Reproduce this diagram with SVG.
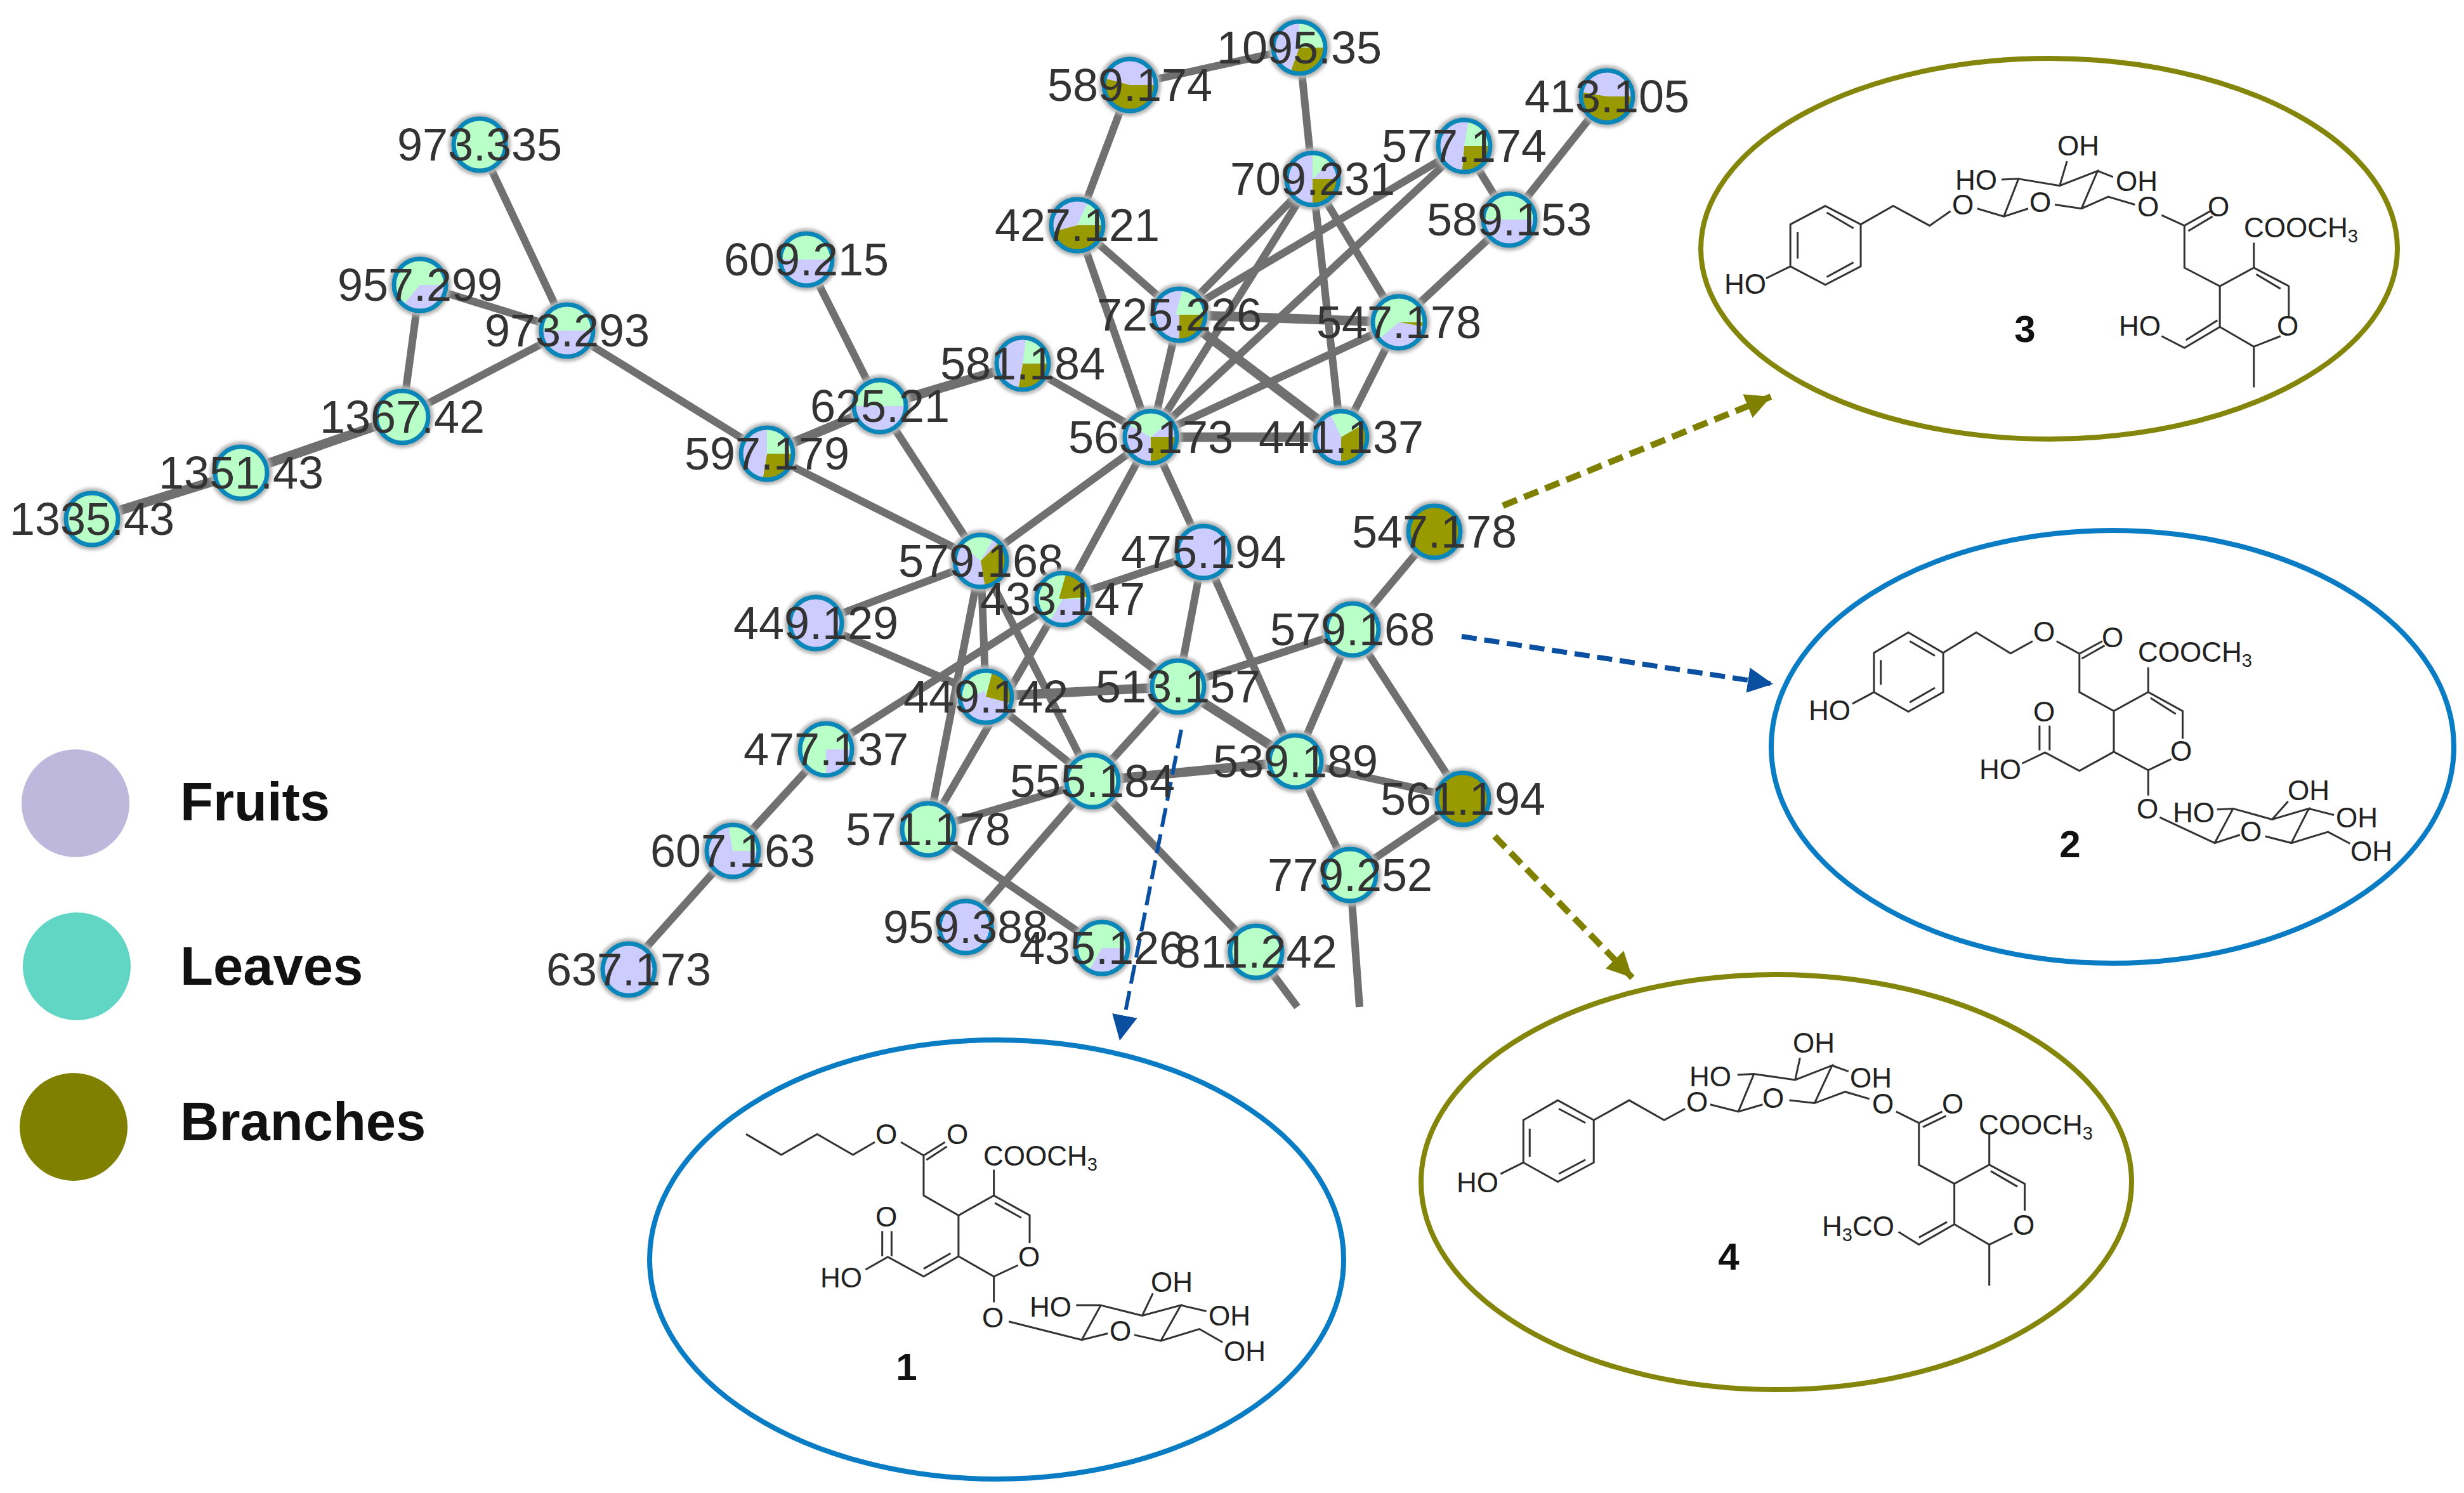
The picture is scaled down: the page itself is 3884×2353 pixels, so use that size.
<svg xmlns="http://www.w3.org/2000/svg" width="3884" height="2353" viewBox="0 0 3884 2353">
<style>
text{font-family:"Liberation Sans",Arial,sans-serif}
.e{stroke:#707070;stroke-width:12;fill:none}
.t{stroke-width:15}
.halo{fill:#b5b5b5;filter:url(#b)}
.ring{fill:none;stroke:#0b86b8;stroke-width:7;r:41px}
.G{fill:#b8ffc8}.L{fill:#ccccff}.O{fill:#999900}
.p{fill:none;stroke-width:42}
.pG{stroke:#b8ffc8}.pL{stroke:#ccccff}.pO{stroke:#999900}
.lb{font-size:72px;fill:#333;text-anchor:middle}
.bond{fill:none;stroke:#333;stroke-width:3;vector-effect:non-scaling-stroke}
.a{font-size:44px;fill:#222;text-anchor:middle}
.s{font-size:44px;fill:#222}
.num{font-size:60px;font-weight:bold;fill:#111;text-anchor:middle}
.lg{font-size:85px;font-weight:bold;fill:#111}
.ell{fill:#fff;stroke-width:8}
</style>
<defs>
<filter id="b" x="-30%" y="-30%" width="160%" height="160%"><feGaussianBlur stdDeviation="2.5"/></filter>
<marker id="mo" markerUnits="userSpaceOnUse" markerWidth="44" markerHeight="44" refX="40" refY="20" orient="auto"><path d="M0 0L40 20L0 40Z" fill="#808000"/></marker>
<marker id="mb" markerUnits="userSpaceOnUse" markerWidth="44" markerHeight="44" refX="40" refY="20" orient="auto"><path d="M0 0L40 20L0 40Z" fill="#0b4fa0"/></marker>
</defs>
<rect width="3884" height="2353" fill="#fff"/>
<g id="connectors">
<line class="e" x1="756" y1="228" x2="894" y2="521"/>
<line class="e" x1="662" y1="449" x2="894" y2="521"/>
<line class="e" x1="662" y1="449" x2="634" y2="657"/>
<line class="e" x1="894" y1="521" x2="634" y2="657"/>
<line class="e t" x1="634" y1="657" x2="380" y2="745"/>
<line class="e t" x1="380" y1="745" x2="145" y2="818"/>
<line class="e" x1="894" y1="521" x2="1209" y2="715"/>
<line class="e t" x1="1209" y1="715" x2="1387" y2="640"/>
<line class="e" x1="1209" y1="715" x2="1546" y2="884"/>
<line class="e" x1="1271" y1="409" x2="1387" y2="640"/>
<line class="e t" x1="1387" y1="640" x2="1612" y2="573"/>
<line class="e" x1="1387" y1="640" x2="1546" y2="884"/>
<line class="e" x1="1612" y1="573" x2="1814" y2="689"/>
<line class="e" x1="1781" y1="134" x2="2048" y2="75"/>
<line class="e" x1="1781" y1="134" x2="1698" y2="355"/>
<line class="e" x1="2048" y1="75" x2="2069" y2="282"/>
<line class="e" x1="2533" y1="152" x2="2379" y2="346"/>
<line class="e" x1="2308" y1="230" x2="2379" y2="346"/>
<line class="e" x1="2308" y1="230" x2="1859" y2="496"/>
<line class="e" x1="2308" y1="230" x2="1814" y2="689"/>
<line class="e" x1="2069" y1="282" x2="1859" y2="496"/>
<line class="e" x1="2069" y1="282" x2="1814" y2="689"/>
<line class="e" x1="2069" y1="282" x2="2205" y2="508"/>
<line class="e" x1="2069" y1="282" x2="2114" y2="689"/>
<line class="e" x1="1698" y1="355" x2="1859" y2="496"/>
<line class="e" x1="1698" y1="355" x2="1814" y2="689"/>
<line class="e t" x1="1859" y1="496" x2="2205" y2="508"/>
<line class="e" x1="1859" y1="496" x2="1814" y2="689"/>
<line class="e t" x1="1859" y1="496" x2="2114" y2="689"/>
<line class="e" x1="2205" y1="508" x2="2379" y2="346"/>
<line class="e" x1="2205" y1="508" x2="1814" y2="689"/>
<line class="e" x1="2205" y1="508" x2="2114" y2="689"/>
<line class="e t" x1="1814" y1="689" x2="2114" y2="689"/>
<line class="e" x1="1814" y1="689" x2="1546" y2="884"/>
<line class="e" x1="1814" y1="689" x2="1675" y2="944"/>
<line class="e" x1="1814" y1="689" x2="1897" y2="870"/>
<line class="e" x1="1546" y1="884" x2="1286" y2="982"/>
<line class="e" x1="1546" y1="884" x2="1554" y2="1098"/>
<line class="e" x1="1546" y1="884" x2="1463" y2="1307"/>
<line class="e" x1="1546" y1="884" x2="1722" y2="1231"/>
<line class="e" x1="1675" y1="944" x2="1897" y2="870"/>
<line class="e t" x1="1675" y1="944" x2="1857" y2="1082"/>
<line class="e" x1="1675" y1="944" x2="1302" y2="1181"/>
<line class="e" x1="1675" y1="944" x2="1463" y2="1307"/>
<line class="e" x1="1286" y1="982" x2="1554" y2="1098"/>
<line class="e t" x1="1554" y1="1098" x2="1857" y2="1082"/>
<line class="e" x1="1554" y1="1098" x2="1722" y2="1231"/>
<line class="e" x1="1897" y1="870" x2="1857" y2="1082"/>
<line class="e" x1="1897" y1="870" x2="2042" y2="1200"/>
<line class="e" x1="1857" y1="1082" x2="2132" y2="992"/>
<line class="e t" x1="1857" y1="1082" x2="2042" y2="1200"/>
<line class="e" x1="1857" y1="1082" x2="1722" y2="1231"/>
<line class="e t" x1="1722" y1="1231" x2="2042" y2="1200"/>
<line class="e" x1="1722" y1="1231" x2="1463" y2="1307"/>
<line class="e" x1="1722" y1="1231" x2="1522" y2="1461"/>
<line class="e" x1="1722" y1="1231" x2="1980" y2="1500"/>
<line class="e" x1="1463" y1="1307" x2="1737" y2="1494"/>
<line class="e" x1="1302" y1="1181" x2="1155" y2="1341"/>
<line class="e" x1="1155" y1="1341" x2="989" y2="1526"/>
<line class="e" x1="2132" y1="992" x2="2261" y2="838"/>
<line class="e" x1="2132" y1="992" x2="2042" y2="1200"/>
<line class="e" x1="2132" y1="992" x2="2306" y2="1259"/>
<line class="e" x1="2042" y1="1200" x2="2306" y2="1259"/>
<line class="e" x1="2042" y1="1200" x2="2128" y2="1379"/>
<line class="e" x1="2306" y1="1259" x2="2128" y2="1379"/>
<line class="e" x1="2128" y1="1379" x2="2143" y2="1587"/>
<line class="e" x1="1980" y1="1500" x2="2045" y2="1587"/>
<line x1="2369" y1="797" x2="2792" y2="625" stroke="#808000" stroke-width="10" stroke-dasharray="24 12" marker-end="url(#mo)"/>
<line x1="2304" y1="1003" x2="2795" y2="1078" stroke="#0b4fa0" stroke-width="8" stroke-dasharray="24 12" marker-end="url(#mb)"/>
<line x1="2356" y1="1318" x2="2573" y2="1541" stroke="#808000" stroke-width="10" stroke-dasharray="24 12" marker-end="url(#mo)"/>
<line x1="1862" y1="1150" x2="1765" y2="1640" stroke="#0b4fa0" stroke-width="6" stroke-dasharray="30 12" marker-end="url(#mb)"/>
</g>
<g id="n973-335" transform="translate(756 228)"><circle class="halo" r="49"/><circle class="G" r="42"/><circle class="ring" r="42"/><text class="lb" y="25">973.335</text></g>
<g id="n957-299" transform="translate(662 449)"><circle class="halo" r="49"/><circle class="G" r="42"/><circle class="p pL" r="21" pathLength="360" stroke-dasharray="130 360"/><circle class="ring" r="42"/><text class="lb" y="25">957.299</text></g>
<g id="n973-293" transform="translate(894 521)"><circle class="halo" r="49"/><circle class="G" r="42"/><circle class="p pL" r="21" pathLength="360" stroke-dasharray="180 360"/><circle class="ring" r="42"/><text class="lb" y="25">973.293</text></g>
<g id="n1367-42" transform="translate(634 657)"><circle class="halo" r="49"/><circle class="G" r="42"/><circle class="ring" r="42"/><text class="lb" y="25">1367.42</text></g>
<g id="n1351-43" transform="translate(380 745)"><circle class="halo" r="49"/><circle class="G" r="42"/><circle class="ring" r="42"/><text class="lb" y="25">1351.43</text></g>
<g id="n1335-43" transform="translate(145 818)"><circle class="halo" r="49"/><circle class="G" r="42"/><circle class="ring" r="42"/><text class="lb" y="25">1335.43</text></g>
<g id="n597-179" transform="translate(1209 715)"><circle class="halo" r="49"/><circle class="G" r="42"/><circle class="p pO" r="21" pathLength="360" stroke-dasharray="100 360"/><circle class="p pL" r="21" pathLength="360" stroke-dasharray="170 360" stroke-dashoffset="-100"/><circle class="ring" r="42"/><text class="lb" y="25">597.179</text></g>
<g id="n609-215" transform="translate(1271 409)"><circle class="halo" r="49"/><circle class="G" r="42"/><circle class="p pL" r="21" pathLength="360" stroke-dasharray="180 360"/><circle class="ring" r="42"/><text class="lb" y="25">609.215</text></g>
<g id="n625-21" transform="translate(1387 640)"><circle class="halo" r="49"/><circle class="G" r="42"/><circle class="p pL" r="21" pathLength="360" stroke-dasharray="180 360"/><circle class="ring" r="42"/><text class="lb" y="25">625.21</text></g>
<g id="n581-184" transform="translate(1612 573)"><circle class="halo" r="49"/><circle class="G" r="42"/><circle class="p pO" r="21" pathLength="360" stroke-dasharray="100 360"/><circle class="p pL" r="21" pathLength="360" stroke-dasharray="178 360" stroke-dashoffset="-100"/><circle class="ring" r="42"/><text class="lb" y="25">581.184</text></g>
<g id="n1095-35" transform="translate(2048 75)"><circle class="halo" r="49"/><circle class="G" r="42"/><circle class="p pO" r="21" pathLength="360" stroke-dasharray="110 360"/><circle class="p pL" r="21" pathLength="360" stroke-dasharray="160 360" stroke-dashoffset="-110"/><circle class="ring" r="42"/><text class="lb" y="25">1095.35</text></g>
<g id="n589-174" transform="translate(1781 134)"><circle class="halo" r="49"/><circle class="L" r="42"/><circle class="p pO" r="21" pathLength="360" stroke-dasharray="195 360"/><circle class="ring" r="42"/><text class="lb" y="25">589.174</text></g>
<g id="n413-105" transform="translate(2533 152)"><circle class="halo" r="49"/><circle class="L" r="42"/><circle class="p pO" r="21" pathLength="360" stroke-dasharray="190 360"/><circle class="ring" r="42"/><text class="lb" y="25">413.105</text></g>
<g id="n577-174" transform="translate(2308 230)"><circle class="halo" r="49"/><circle class="G" r="42"/><circle class="p pO" r="21" pathLength="360" stroke-dasharray="95 360"/><circle class="p pL" r="21" pathLength="360" stroke-dasharray="185 360" stroke-dashoffset="-95"/><circle class="ring" r="42"/><text class="lb" y="25">577.174</text></g>
<g id="n709-231" transform="translate(2069 282)"><circle class="halo" r="49"/><circle class="L" r="42"/><circle class="p pO" r="21" pathLength="360" stroke-dasharray="90 360"/><circle class="p pG" r="21" pathLength="360" stroke-dasharray="45 360" stroke-dashoffset="-270"/><circle class="ring" r="42"/><text class="lb" y="25">709.231</text></g>
<g id="n589-153" transform="translate(2379 346)"><circle class="halo" r="49"/><circle class="G" r="42"/><circle class="p pL" r="21" pathLength="360" stroke-dasharray="180 360"/><circle class="ring" r="42"/><text class="lb" y="25">589.153</text></g>
<g id="n427-121" transform="translate(1698 355)"><circle class="halo" r="49"/><circle class="G" r="42"/><circle class="p pO" r="21" pathLength="360" stroke-dasharray="165 360"/><circle class="p pL" r="21" pathLength="360" stroke-dasharray="130 360" stroke-dashoffset="-165"/><circle class="ring" r="42"/><text class="lb" y="25">427.121</text></g>
<g id="n725-226" transform="translate(1859 496)"><circle class="halo" r="49"/><circle class="L" r="42"/><circle class="p pO" r="21" pathLength="360" stroke-dasharray="90 360"/><circle class="p pG" r="21" pathLength="360" stroke-dasharray="90 360" stroke-dashoffset="-270"/><circle class="ring" r="42"/><text class="lb" y="25">725.226</text></g>
<g id="n547-178a" transform="translate(2205 508)"><circle class="halo" r="49"/><circle class="G" r="42"/><circle class="p pO" r="21" pathLength="360" stroke-dasharray="10 360"/><circle class="p pL" r="21" pathLength="360" stroke-dasharray="130 360" stroke-dashoffset="-10"/><circle class="ring" r="42"/><text class="lb" y="25">547.178</text></g>
<g id="n563-173" transform="translate(1814 689)"><circle class="halo" r="49"/><circle class="L" r="42"/><circle class="p pO" r="21" pathLength="360" stroke-dasharray="90 360"/><circle class="p pG" r="21" pathLength="360" stroke-dasharray="110 360" stroke-dashoffset="-210"/><circle class="ring" r="42"/><text class="lb" y="25">563.173</text></g>
<g id="n441-137" transform="translate(2114 689)"><circle class="halo" r="49"/><circle class="L" r="42"/><circle class="p pO" r="21" pathLength="360" stroke-dasharray="90 360"/><circle class="p pG" r="21" pathLength="360" stroke-dasharray="85 360" stroke-dashoffset="-245"/><circle class="p pO" r="21" pathLength="360" stroke-dasharray="30 360" stroke-dashoffset="-330"/><circle class="ring" r="42"/><text class="lb" y="25">441.137</text></g>
<g id="n579-168a" transform="translate(1546 884)"><circle class="halo" r="49"/><circle class="L" r="42"/><circle class="p pO" r="21" pathLength="360" stroke-dasharray="80 360"/><circle class="p pG" r="21" pathLength="360" stroke-dasharray="80 360" stroke-dashoffset="-220"/><circle class="p pO" r="21" pathLength="360" stroke-dasharray="45 360" stroke-dashoffset="-315"/><circle class="ring" r="42"/><text class="lb" y="25">579.168</text></g>
<g id="n433-147" transform="translate(1675 944)"><circle class="halo" r="49"/><circle class="G" r="42"/><circle class="p pL" r="21" pathLength="360" stroke-dasharray="120 360"/><circle class="p pO" r="21" pathLength="360" stroke-dasharray="85 360" stroke-dashoffset="-270"/><circle class="ring" r="42"/><text class="lb" y="25">433.147</text></g>
<g id="n475-194" transform="translate(1897 870)"><circle class="halo" r="49"/><circle class="L" r="42"/><circle class="ring" r="42"/><text class="lb" y="25">475.194</text></g>
<g id="n547-178b" transform="translate(2261 838)"><circle class="halo" r="49"/><circle class="O" r="42"/><circle class="ring" r="42"/><text class="lb" y="25">547.178</text></g>
<g id="n449-129" transform="translate(1286 982)"><circle class="halo" r="49"/><circle class="L" r="42"/><circle class="ring" r="42"/><text class="lb" y="25">449.129</text></g>
<g id="n579-168b" transform="translate(2132 992)"><circle class="halo" r="49"/><circle class="G" r="42"/><circle class="ring" r="42"/><text class="lb" y="25">579.168</text></g>
<g id="n449-142" transform="translate(1554 1098)"><circle class="halo" r="49"/><circle class="L" r="42"/><circle class="p pO" r="21" pathLength="360" stroke-dasharray="15 360"/><circle class="p pG" r="21" pathLength="360" stroke-dasharray="105 360" stroke-dashoffset="-180"/><circle class="p pO" r="21" pathLength="360" stroke-dasharray="75 360" stroke-dashoffset="-285"/><circle class="ring" r="42"/><text class="lb" y="25">449.142</text></g>
<g id="n513-157" transform="translate(1857 1082)"><circle class="halo" r="49"/><circle class="G" r="42"/><circle class="ring" r="42"/><text class="lb" y="25">513.157</text></g>
<g id="n477-137" transform="translate(1302 1181)"><circle class="halo" r="49"/><circle class="G" r="42"/><circle class="p pL" r="21" pathLength="360" stroke-dasharray="90 360"/><circle class="ring" r="42"/><text class="lb" y="25">477.137</text></g>
<g id="n555-184" transform="translate(1722 1231)"><circle class="halo" r="49"/><circle class="G" r="42"/><circle class="ring" r="42"/><text class="lb" y="25">555.184</text></g>
<g id="n539-189" transform="translate(2042 1200)"><circle class="halo" r="49"/><circle class="G" r="42"/><circle class="ring" r="42"/><text class="lb" y="25">539.189</text></g>
<g id="n561-194" transform="translate(2306 1259)"><circle class="halo" r="49"/><circle class="O" r="42"/><circle class="ring" r="42"/><text class="lb" y="25">561.194</text></g>
<g id="n571-178" transform="translate(1463 1307)"><circle class="halo" r="49"/><circle class="G" r="42"/><circle class="ring" r="42"/><text class="lb" y="25">571.178</text></g>
<g id="n607-163" transform="translate(1155 1341)"><circle class="halo" r="49"/><circle class="L" r="42"/><circle class="p pG" r="21" pathLength="360" stroke-dasharray="100 360" stroke-dashoffset="-260"/><circle class="ring" r="42"/><text class="lb" y="25">607.163</text></g>
<g id="n779-252" transform="translate(2128 1379)"><circle class="halo" r="49"/><circle class="G" r="42"/><circle class="ring" r="42"/><text class="lb" y="25">779.252</text></g>
<g id="n959-388" transform="translate(1522 1461)"><circle class="halo" r="49"/><circle class="L" r="42"/><circle class="ring" r="42"/><text class="lb" y="25">959.388</text></g>
<g id="n435-126" transform="translate(1737 1494)"><circle class="halo" r="49"/><circle class="G" r="42"/><circle class="p pL" r="21" pathLength="360" stroke-dasharray="120 360"/><circle class="ring" r="42"/><text class="lb" y="25">435.126</text></g>
<g id="n811-242" transform="translate(1980 1500)"><circle class="halo" r="49"/><circle class="G" r="42"/><circle class="ring" r="42"/><text class="lb" y="25">811.242</text></g>
<g id="n637-173" transform="translate(991 1528)"><circle class="halo" r="49"/><circle class="L" r="42"/><circle class="ring" r="42"/><text class="lb" y="25">637.173</text></g>
<g id="legend-fruits"><circle cx="119" cy="1266" r="85" fill="#bdb8dc"/><text class="lg" x="284" y="1293">Fruits</text></g>
<g id="legend-leaves"><circle cx="121" cy="1523" r="85" fill="#62d6c4"/><text class="lg" x="284" y="1552">Leaves</text></g>
<g id="legend-branches"><circle cx="116" cy="1776" r="85" fill="#7f7f00"/><text class="lg" x="284" y="1797">Branches</text></g>
<g id="compound-3">
<ellipse class="ell" cx="3230" cy="392" rx="549" ry="300" stroke="#84860c"/>
<g transform="translate(2650 80) scale(.765 .4145)"><path class="bond" d="M297 590L370 660V820L297 890L225 820V660ZM300 615L355 675M355 805L300 860M240 690V790M225 820L175 865M370 660L437 590L512 665L555 610M610 600L665 630L715 600M770 585L825 600L880 555L935 585M665 630L695 487L780 513L858 457L825 600M660 490L695 487M795 420L780 513M858 457L890 480M990 625L1037 665L1090 610M1045 685L1095 630M1037 665V825L1110 895L1180 825L1252 895V1010M1185 850L1235 905M1235 1085L1180 1125L1110 1050V895M1180 1125V1280M1180 825V730M1110 1050L1037 1130L990 1085M1105 1025L1040 1100"/></g>
<text class="a" x="3276" y="245">OH</text><text class="a" x="3115" y="299">HO</text><text class="a" x="3368" y="301">OH</text><text class="a" x="3094" y="338">O</text><text class="a" x="3216" y="334">O</text><text class="a" x="3386" y="341">O</text><text class="a" x="3497" y="341">O</text>
<text class="s" x="3537" y="374">COOCH<tspan font-size="29" dy="8">3</tspan></text>
<text class="a" x="2751" y="463">HO</text><text class="a" x="3373" y="529">HO</text><text class="a" x="3606" y="529">O</text><text class="num" x="3192" y="539">3</text>
</g>
<g id="compound-2">
<ellipse class="ell" cx="3330" cy="1177" rx="538" ry="341" stroke="#0a7cc4"/>
<g transform="translate(2750 820) scale(.723 .459)"><path class="bond" d="M357 385L433 455V590L357 657L282 590V455ZM360 415L415 465M415 575L360 625M297 480V565M282 590L235 630M433 455L505 385L580 457L628 415M680 415L730 458L780 415M735 475L785 430M730 458V590L805 655L880 590L955 655V750M885 610L940 665M930 820L880 858L805 795V655M880 590V505M805 795L730 860L655 797L605 835M643 790V705M665 790V705M880 858V945M905 1020L1025 1108L1080 1080M1135 1085L1192 1108L1272 1070L1320 1110M1025 1108L1065 990L1150 1027L1230 990L1192 1108M1030 993L1065 990M1185 965L1150 1027M1230 990L1285 1012"/></g>
<text class="a" x="2884" y="1135">HO</text><text class="a" x="3222" y="1011">O</text><text class="a" x="3330" y="1020">O</text>
<text class="s" x="3370" y="1043">COOCH<tspan font-size="29" dy="8">3</tspan></text>
<text class="a" x="3438" y="1199">O</text><text class="a" x="3222" y="1137">O</text><text class="a" x="3153" y="1228">HO</text><text class="a" x="3385" y="1290">O</text><text class="a" x="3548" y="1326">O</text><text class="a" x="3738" y="1357">OH</text><text class="a" x="3458" y="1296">HO</text><text class="a" x="3639" y="1261">OH</text><text class="a" x="3715" y="1304">OH</text><text class="num" x="3263" y="1351">2</text>
</g>
<g id="compound-4">
<ellipse class="ell" cx="2800" cy="1863" rx="560" ry="327" stroke="#84860c"/>
<g transform="translate(2220 1520) scale(.765 .446)"><path class="bond" d="M308 480L382 550V700L308 768L237 700V550ZM310 510L365 560M365 690L310 740M250 580V680M237 700L190 740M382 550L455 480L527 550L570 510M622 495L680 520L730 495M785 480L837 490L900 450L950 475M680 520L712 387L797 408L873 357L837 490M678 390L712 387M807 330L797 408M873 357L907 378M1005 520L1052 560L1100 520M1060 575L1108 535M1052 560V708L1125 775L1197 708L1270 775V870M1200 730L1255 785M1245 950L1197 990L1125 918V775M1197 990V1135M1197 708V600M1125 918L1052 990L1010 945M1110 910L1052 965"/></g>
<text class="a" x="2329" y="1879">HO</text><text class="a" x="2675" y="1752">O</text><text class="a" x="2795" y="1746">O</text><text class="a" x="2968" y="1755">O</text><text class="a" x="2696" y="1712">HO</text><text class="a" x="2859" y="1659">OH</text><text class="a" x="2949" y="1714">OH</text><text class="a" x="3078" y="1755">O</text>
<text class="s" x="3119" y="1788">COOCH<tspan font-size="29" dy="8">3</tspan></text>
<text class="a" x="3190" y="1946">O</text>
<text class="s" x="2872" y="1948">H<tspan font-size="29" dy="8">3</tspan><tspan dy="-8">CO</tspan></text>
<text class="num" x="2725" y="2001">4</text>
</g>
<g id="compound-1">
<ellipse class="ell" cx="1571" cy="1985" rx="547" ry="346" stroke="#0a7cc4"/>
<g transform="translate(1000 1620) scale(.733 .4675)"><path class="bond" d="M240 358L316 428L393 358L470 428L517 385M573 385L622 430L668 385M628 445L672 400M622 430V565L697 632L773 565L850 632V725M775 590L832 640M825 800L773 838L697 770V632M773 565V478M697 770L622 838L545 772L497 815M680 760L622 812M533 770V685M553 770V685M773 838V925M805 990L962 1052L1018 1030M1075 1035L1132 1055L1215 1015L1265 1060M962 1052L1003 935L1092 970L1175 935L1132 1055M950 935H1003M1115 895L1092 970M1175 935L1230 955"/></g>
<text class="a" x="1397" y="1803">O</text><text class="a" x="1509" y="1803">O</text>
<text class="s" x="1550" y="1837">COOCH<tspan font-size="29" dy="8">3</tspan></text>
<text class="a" x="1622" y="1996">O</text><text class="a" x="1397" y="1933">O</text><text class="a" x="1326" y="2029">HO</text><text class="a" x="1565" y="2092">O</text><text class="a" x="1766" y="2113">O</text><text class="a" x="1962" y="2145">OH</text><text class="a" x="1656" y="2075">HO</text><text class="a" x="1847" y="2036">OH</text><text class="a" x="1938" y="2089">OH</text><text class="num" x="1429" y="2175">1</text>
</g>
</svg>
